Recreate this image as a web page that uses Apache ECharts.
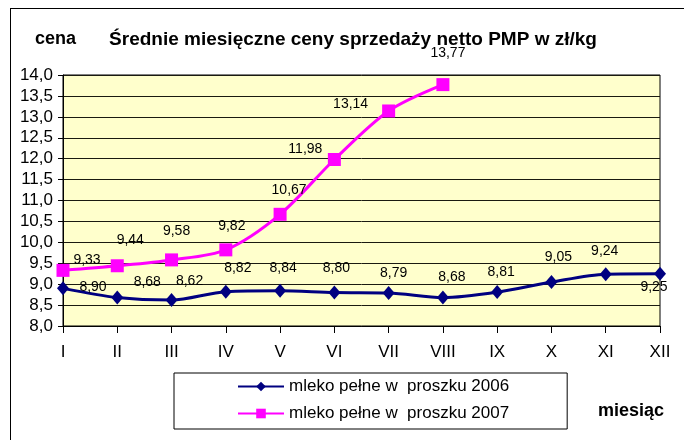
<!DOCTYPE html>
<html>
<head>
<meta charset="utf-8">
<script src="https://cdn.jsdelivr.net/npm/echarts@6/dist/echarts.min.js"></script>
<style>
html, body { margin: 0; padding: 0; background: #fff; }
#chart { width: 684px; height: 440px; }
</style>
</head>
<body>
<div id="chart"></div>
<script>
var months = ['I', 'II', 'III', 'IV', 'V', 'VI', 'VII', 'VIII', 'IX', 'X', 'XI', 'XII'];
var milk2006 = [8.90, 8.68, 8.62, 8.82, 8.84, 8.80, 8.79, 8.68, 8.81, 9.05, 9.24, 9.25];
var milk2007 = [9.33, 9.44, 9.58, 9.82, 10.67, 11.98, 13.14, 13.77];
var name2006 = 'mleko pełne w  proszku 2006';
var name2007 = 'mleko pełne w  proszku 2007';

// przesunięcia etykiet (px) - jak w oryginale z Excela
var off2006 = [[30, -1], [30, -15], [18, -19], [12, -24], [3, -23], [2, -24], [5, -20], [9, -20], [4, -20], [7, -25], [-1, -23], [-6, 13]];
var off2007 = [[24, -10], [13, -26], [5, -29], [6, -24], [9, -24], [-29, -10], [-38, -7], [5, -31]];

var fmt = function (v) { return v.toFixed(2).replace('.', ','); };

function withLabels(vals, offs) {
    return vals.map(function (v, i) {
        return { value: v, label: { offset: offs[i] } };
    });
}

var chart = echarts.init(document.getElementById('chart'));
var font = 'Liberation Sans, Arial, sans-serif';
var option = {
    backgroundColor: '#fff',
    animation: false,
    textStyle: { fontFamily: font },
    title: {
        text: 'Średnie miesięczne ceny sprzedaży netto PMP w zł/kg',
        left: 348, top: 25, textAlign: 'center',
        textStyle: { fontSize: 19, fontWeight: 'bold', color: '#000', fontFamily: font }
    },
    grid: {
        left: 63, top: 75, width: 597, height: 251,
        show: true, backgroundColor: '#FFFFCC', borderColor: '#000', borderWidth: 1
    },
    legend: {
        orient: 'vertical',
        left: 174, top: 373,
        padding: [5, 58, 7, 63],
        itemGap: 10,
        itemWidth: 46, itemHeight: 12,
        borderColor: '#000', borderWidth: 1,
        textStyle: { fontSize: 17, color: '#000', fontFamily: font },
        data: [name2006, name2007]
    },
    xAxis: {
        type: 'category',
        data: months,
        boundaryGap: false,
        axisLine: { lineStyle: { color: '#000' } },
        axisTick: { show: true, length: 7, lineStyle: { color: '#000' } },
        axisLabel: { color: '#000', fontSize: 17, margin: 18 },
        splitLine: { show: false }
    },
    yAxis: {
        type: 'value',
        min: 8, max: 14, interval: 0.5,
        axisLine: { show: true, lineStyle: { color: '#000' } },
        axisTick: { show: true, length: 5, lineStyle: { color: '#000' } },
        axisLabel: { color: '#000', fontSize: 17, margin: 10, formatter: function (v) { return v.toFixed(1).replace('.', ','); } },
        splitLine: { show: true, lineStyle: { color: '#1a1a10', width: 1 } }
    },
    graphic: [
        { type: 'line', shape: { x1: 10, y1: 8.5, x2: 684, y2: 8.5 }, style: { stroke: '#000', lineWidth: 1 } },
        { type: 'line', shape: { x1: 10.5, y1: 8, x2: 10.5, y2: 440 }, style: { stroke: '#000', lineWidth: 1 } },
        { type: 'text', left: 35, top: 30, style: { text: 'cena', font: 'bold 18px ' + font, fill: '#000' } },
        { type: 'text', left: 598, top: 402, style: { text: 'miesiąc', font: 'bold 18px ' + font, fill: '#000' } }
    ],
    series: [
        {
            name: name2006,
            type: 'line',
            smooth: 0.3,
            data: withLabels(milk2006, off2006),
            symbol: 'diamond',
            symbolSize: [12, 14],
            itemStyle: { color: '#000080' },
            lineStyle: { color: '#000080', width: 3 },
            label: { show: true, position: 'inside', color: '#000', fontSize: 14,
                formatter: function (p) { return fmt(p.value); } },
            z: 3
        },
        {
            name: name2007,
            type: 'line',
            smooth: 0.3,
            data: withLabels(milk2007, off2007),
            symbol: 'rect',
            symbolSize: 13,
            itemStyle: { color: '#FF00FF' },
            lineStyle: { color: '#FF00FF', width: 3 },
            label: { show: true, position: 'inside', color: '#000', fontSize: 14,
                formatter: function (p) { return fmt(p.value); } },
            z: 4
        }
    ]
};
chart.setOption(option);
</script>
</body>
</html>
